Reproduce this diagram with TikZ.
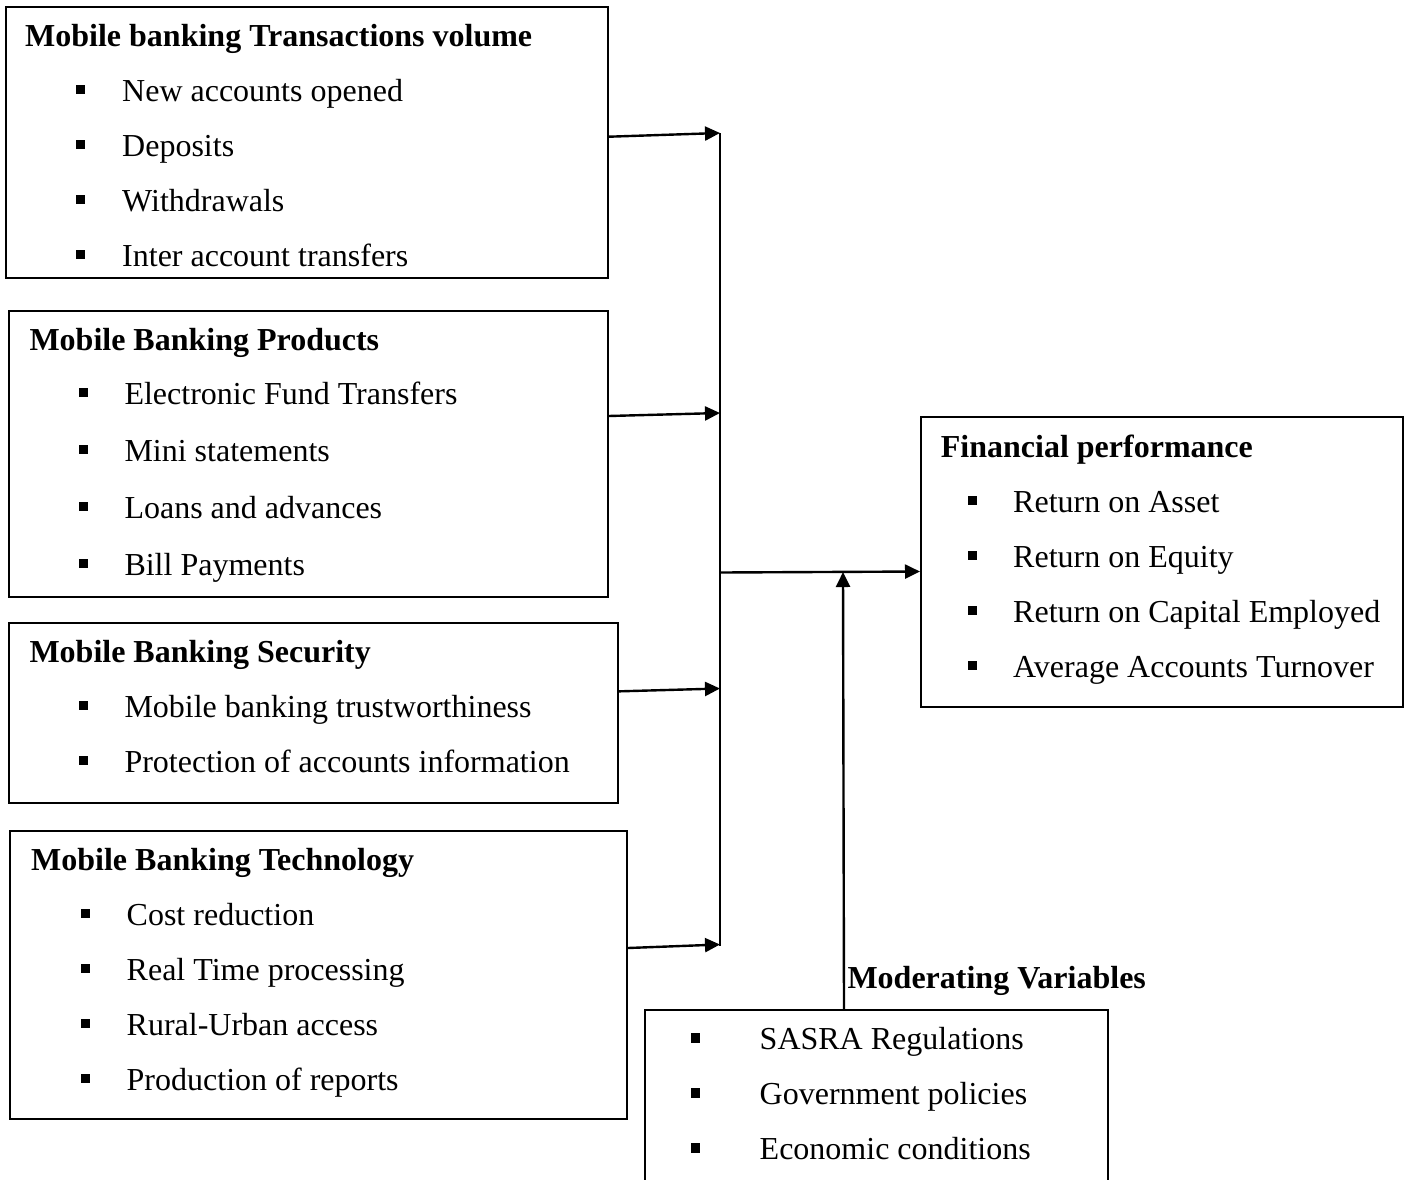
\documentclass[tikz,border=0pt]{standalone}
\usepackage{fontspec}
\setmainfont{Liberation Serif}
\usetikzlibrary{arrows.meta}
\tikzset{
  box/.style={draw, line width=2pt, inner sep=0pt, anchor=north west, rectangle},
  ttl/.style={anchor=base west, inner sep=0pt, font=\fontsize{32}{38}\selectfont\bfseries},
  itm/.style={anchor=base west, inner sep=0pt, font=\fontsize{32}{38}\selectfont},
  bul/.style={fill=black, draw=none, minimum size=9.5pt, inner sep=0pt, rectangle},
  arr/.style={line width=2.4pt, -{Triangle[length=15pt,width=14pt]}},
  ln/.style={line width=2.4pt}
}
\newcommand\bitem[5]{\node[bul] (#1b) at (#2,#4-11.5) {}; \node[itm] (#1) at (#3,#4) {#5};}
\begin{document}
\begin{tikzpicture}[x=1pt,y=-1pt]
\useasboundingbox (0,0) rectangle (1411,1179);
\clip (0,0) rectangle (1411,1179);

% Box 1
\node[box, minimum width=602pt, minimum height=271pt] (b1) at (5,6) {};
\node[ttl] (b1t) at (25,46) {Mobile banking Transactions volume};
\bitem{b1i1}{80.5}{122}{101}{New accounts opened}
\bitem{b1i2}{80.5}{122}{156}{Deposits}
\bitem{b1i3}{80.5}{122}{211}{Withdrawals}
\bitem{b1i4}{80.5}{122}{266}{Inter account transfers}

% Box 2
\node[box, minimum width=599pt, minimum height=285.5pt] (b2) at (7.5,310) {};
\node[ttl] (b2t) at (29.3,350) {Mobile Banking Products};
\bitem{b2i1}{83.7}{124.3}{404}{Electronic Fund Transfers}
\bitem{b2i2}{83.7}{124.3}{461}{Mini statements}
\bitem{b2i3}{83.7}{124.3}{518}{Loans and advances}
\bitem{b2i4}{83.7}{124.3}{575}{Bill Payments}

% Box 3
\node[box, minimum width=609pt, minimum height=179.7pt] (b3) at (7.5,622) {};
\node[ttl] (b3t) at (29.3,662) {Mobile Banking Security};
\bitem{b3i1}{83.7}{124.3}{717}{Mobile banking trustworthiness}
\bitem{b3i2}{83.7}{124.3}{772}{Protection of accounts information}

% Box 4
\node[box, minimum width=617pt, minimum height=287.5pt] (b4) at (9,830) {};
\node[ttl] (b4t) at (31,870) {Mobile Banking Technology};
\bitem{b4i1}{85.5}{126.5}{925}{Cost reduction}
\bitem{b4i2}{85.5}{126.5}{980}{Real Time processing}
\bitem{b4i3}{85.5}{126.5}{1035}{Rural-Urban access}
\bitem{b4i4}{85.5}{126.5}{1090}{Production of reports}

% Financial performance
\node[box, minimum width=482pt, minimum height=290pt] (fin) at (920,416) {};
\node[ttl] (fint) at (940.7,457) {Financial performance};
\bitem{fi1}{972.5}{1013}{512}{Return on Asset}
\bitem{fi2}{972.5}{1013}{567}{Return on Equity}
\bitem{fi3}{972.5}{1013}{622}{Return on Capital Employed}
\bitem{fi4}{972.5}{1013}{677}{Average Accounts Turnover}

% Moderating variables
\node[ttl] (modt) at (847.3,988.3) {Moderating Variables};
\node[box, minimum width=463pt, minimum height=220pt] (mod) at (644,1009) {};
\bitem{mi1}{695.7}{759.5}{1049.5}{SASRA Regulations}
\bitem{mi2}{695.7}{759.5}{1104.5}{Government policies}
\bitem{mi3}{695.7}{759.5}{1159.5}{Economic conditions}

% Connectors
\coordinate (j1) at (720,133);
\coordinate (j2) at (720,413);
\coordinate (j3) at (720,688.5);
\coordinate (j4) at (720,946);
\coordinate (jt) at (720,572.5);
\coordinate (jm) at (843,572);

\draw[ln] (j1) -- (j4);
\draw[arr] ([yshift=5.8pt]b1.east) -- (j1);
\draw[arr] ([yshift=37.75pt]b2.east) -- (j2);
\draw[arr] ([yshift=21.5pt]b3.east) -- (j3);
\draw[arr] ([yshift=26.75pt]b4.east) -- ([yshift=1.5pt]j4);
\draw[arr] (jt) -- ([yshift=-9.5pt]fin.west);
\draw[arr] ([xshift=-32.5pt]mod.north) -- (jm);
\end{tikzpicture}
\end{document}
